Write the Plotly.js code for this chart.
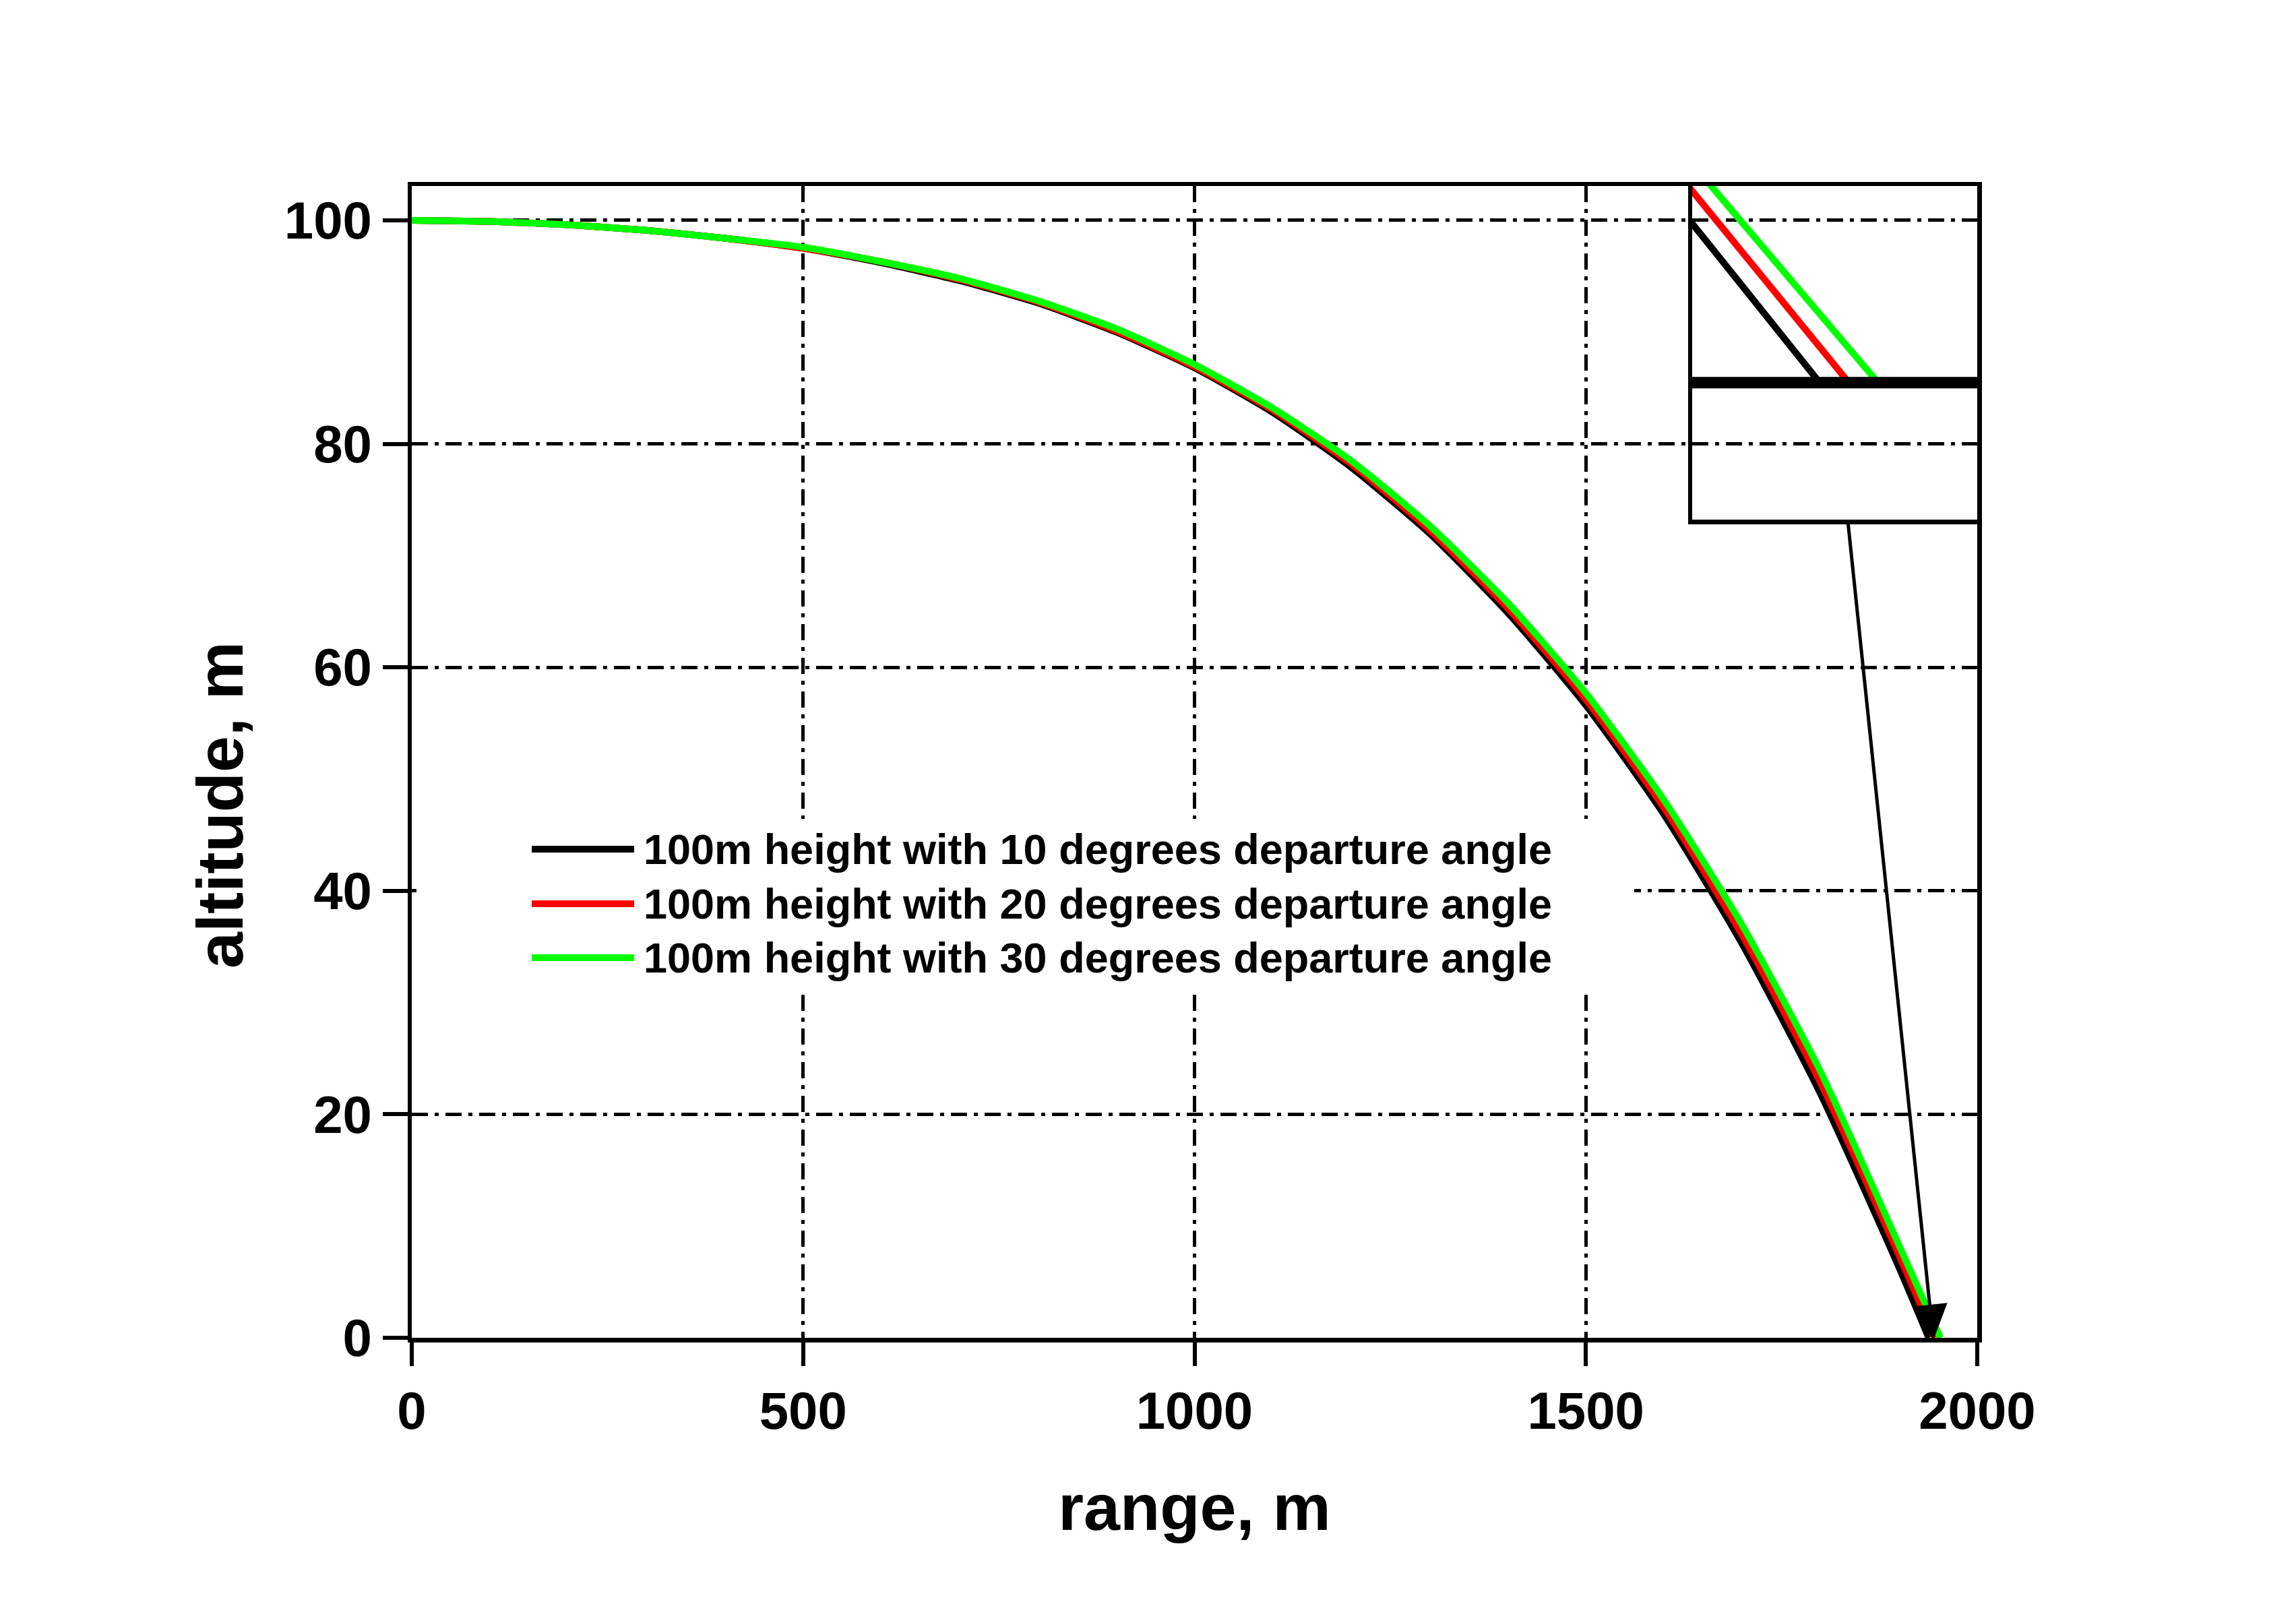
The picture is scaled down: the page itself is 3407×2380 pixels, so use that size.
<!DOCTYPE html>
<html>
<head>
<meta charset="utf-8">
<script src="https://cdn.plot.ly/plotly-3.0.1.min.js"></script>
<style>html,body{margin:0;padding:0;background:#fff;}#chart{width:3407px;height:2380px;}</style>
</head>
<body>
<div id="chart"></div>
<script>
// ---- data ----
const seriesNames = [
  "100m height with 10 degrees departure angle",
  "100m height with 20 degrees departure angle",
  "100m height with 30 degrees departure angle"
];
const range10 = [0,100,200,300,400,500,600,700,800,900,1000,1100,1200,1300,1400,1500,1600,1700,1800,1900,1938];
const alt10   = [100,99.9,99.6,99.1,98.4,97.5,96.2,94.6,92.6,90.0,86.8,82.8,77.9,72.0,64.9,56.6,46.8,35.2,21.8,6.3,0];
const range20 = [0,100,200,300,400,500,600,700,800,900,1000,1100,1200,1300,1400,1500,1600,1700,1800,1900,1945.5];
const alt20   = [100,99.9,99.6,99.1,98.4,97.5,96.3,94.7,92.7,90.1,86.9,83.0,78.2,72.3,65.3,57.1,47.4,36.0,22.8,7.4,0];
const range30 = [0,100,200,300,400,500,600,700,800,900,1000,1100,1200,1300,1400,1500,1600,1700,1800,1900,1953];
const alt30   = [100,99.9,99.6,99.1,98.4,97.6,96.3,94.8,92.8,90.3,87.1,83.2,78.5,72.7,65.8,57.7,48.1,36.9,23.8,8.3,0];
const xTicks = [0,500,1000,1500,2000];
const yTicks = [0,20,40,60,80,100];
const xTitle = "range, m";
const yTitle = "altitude, m";

const colors = ["#000000","#ff0000","#00ff00"];
const xs = [range10, range20, range30];
const ys = [alt10, alt20, alt30];

const FONT = "Liberation Sans, Arial, Helvetica, sans-serif";
const traces = [];
for (let i = 0; i < 3; i++) {
  traces.push({x: xs[i], y: ys[i], type: "scatter", mode: "lines", name: seriesNames[i],
    line: {color: colors[i], width: 10, shape: "spline", smoothing: 0.6},
    xaxis: "x", yaxis: "y", showlegend: false, hoverinfo: "skip"});
}
for (let i = 0; i < 3; i++) {
  traces.push({x: xs[i], y: ys[i], type: "scatter", mode: "lines", name: seriesNames[i],
    line: {color: colors[i], width: 10},
    xaxis: "x2", yaxis: "y2", showlegend: false, hoverinfo: "skip"});
}

const L = 611, R = 2934, T = 276, B = 1985;
const PW = R - L, PH = B - T;
const px = v => (v - L) / PW;
const py = v => (B - v) / PH;

const shapes = [];
const annotations = [];
// legend background (hides the grid behind it)
shapes.push({type: "rect", xref: "paper", yref: "paper", x0: 0.003, x1: px(2425), y0: py(1215), y1: py(1468),
  fillcolor: "#ffffff", line: {width: 0}, layer: "above"});
const rowsY = [1260, 1341, 1421];
for (let i = 0; i < 3; i++) {
  shapes.push({type: "line", xref: "paper", yref: "paper", x0: px(789), x1: px(941), y0: py(rowsY[i]), y1: py(rowsY[i]),
    line: {color: colors[i], width: 10}, layer: "above"});
  annotations.push({xref: "paper", yref: "paper", x: px(953), y: py(rowsY[i]), xanchor: "left", yanchor: "middle",
    text: seriesNames[i], showarrow: false, font: {family: FONT, size: 63, color: "#000", weight: "bold"}});
}
// y axis title placed as in the reference
annotations.push({xref: "paper", yref: "paper", x: px(326), y: py(1195), xanchor: "center", yanchor: "middle",
  textangle: -90, text: yTitle, showarrow: false, font: {family: FONT, size: 97, color: "#000", weight: "bold"}});
// inset background
shapes.push({type: "rect", xref: "x2 domain", yref: "y2 domain", x0: 0, x1: 1, y0: 0, y1: 1,
  fillcolor: "#ffffff", line: {width: 0}, layer: "below"});
// thick ground line inside inset
shapes.push({type: "line", xref: "x2 domain", yref: "y2", x0: -0.01, x1: 1.015, y0: 0, y1: 0,
  line: {color: "#000", width: 17}, layer: "above"});
// arrow from inset to landing point
annotations.push({xref: "x", yref: "y", x: 1944, y: -0.2, axref: "x", ayref: "y", ax: 1834.5, ay: 73.2,
  text: "", showarrow: true, arrowhead: 2, arrowsize: 2.1, arrowwidth: 5, arrowcolor: "#000", standoff: 0, startstandoff: 0});

const tickFont = {family: FONT, size: 78, color: "#000", weight: "bold"};
const titleFont = {family: FONT, size: 97, color: "#000", weight: "bold"};
const gridDash = "24px,10px,6px,10px";

const layout = {
  width: 3407, height: 2380,
  margin: {l: L, r: 3407 - R, t: T, b: 2380 - B, pad: 0},
  paper_bgcolor: "#ffffff", plot_bgcolor: "rgba(0,0,0,0)",
  showlegend: false,
  xaxis: {range: [0, 2000], tickvals: xTicks, ticktext: xTicks.map(String), ticks: "outside", ticklen: 35, tickwidth: 6,
    tickcolor: "#000", showline: true, linewidth: 6.5, linecolor: "#000", mirror: true,
    showgrid: true, gridcolor: "#000", gridwidth: 5, griddash: gridDash, zeroline: false,
    tickfont: tickFont, title: {text: xTitle, font: titleFont, standoff: 68}, domain: [0, 1], anchor: "y"},
  yaxis: {range: [0, 103.07], tickvals: yTicks, ticktext: yTicks.map(String), ticks: "outside", ticklen: 37, tickwidth: 6,
    tickcolor: "#000", showline: true, linewidth: 6.5, linecolor: "#000", mirror: true,
    showgrid: true, gridcolor: "#000", gridwidth: 5, griddash: gridDash, zeroline: false,
    tickfont: tickFont, domain: [0, 1], anchor: "x"},
  xaxis2: {range: [1905.2, 1978.5], domain: [px(2511), 1], anchor: "y2", showticklabels: false, ticks: "",
    showgrid: false, zeroline: false, showline: true, linewidth: 6.5, linecolor: "#000", mirror: true},
  yaxis2: {range: [-4.68, 6.72], domain: [py(771), 1], anchor: "x2", showticklabels: false, ticks: "",
    showgrid: false, zeroline: false, showline: true, linewidth: 6.5, linecolor: "#000", mirror: true},
  shapes: shapes,
  annotations: annotations
};

Plotly.newPlot("chart", traces, layout, {staticPlot: true, displayModeBar: false});
</script>
</body>
</html>
